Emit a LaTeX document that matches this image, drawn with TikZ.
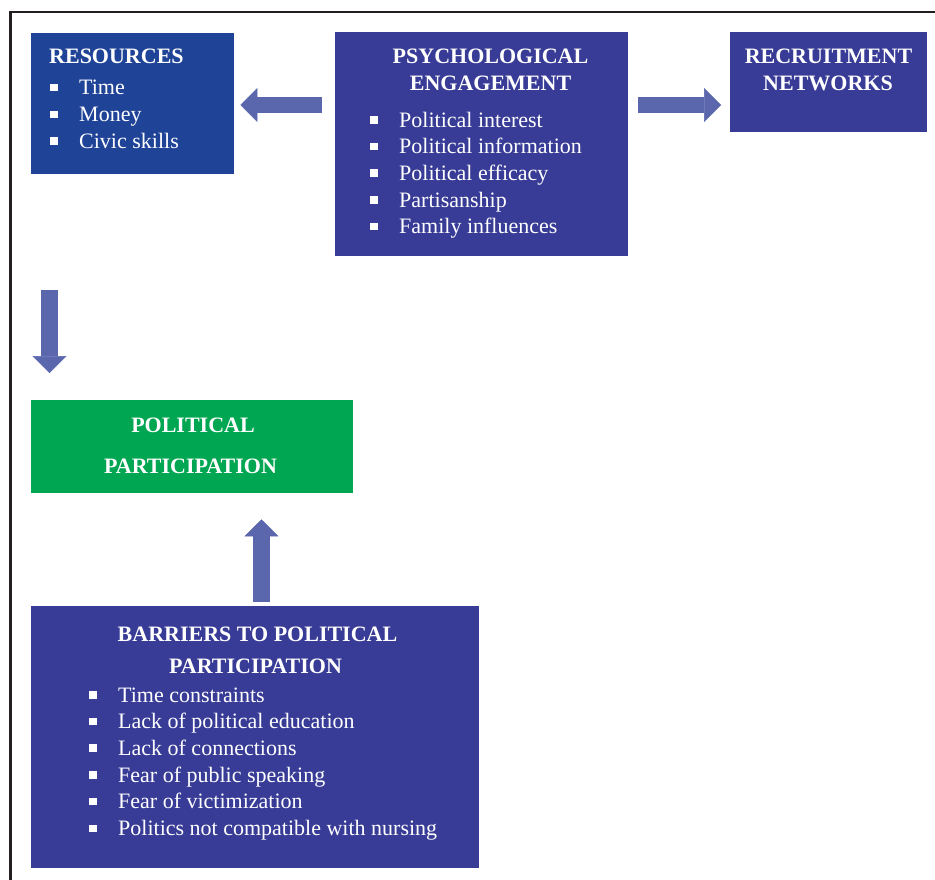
\documentclass[tikz,border=0pt]{standalone}
\usepackage{fontspec}
\setmainfont{Liberation Serif}
\usetikzlibrary{positioning, calc, arrows.meta}

\definecolor{resblue}{RGB}{31,67,151}
\definecolor{boxblue}{RGB}{56,60,150}
\definecolor{arrowblue}{RGB}{91,103,173}
\definecolor{ppgreen}{RGB}{0,166,81}
\definecolor{framegray}{RGB}{35,31,32}

\newcommand{\sqitem}[1]{\makebox[29pt][l]{\rule[3.5pt]{7.5pt}{7.5pt}}#1}

\begin{document}
\begin{tikzpicture}[x=1pt, y=-1pt,
  box/.style={rectangle, anchor=north west, inner sep=0pt, draw=none},
  title/.style={anchor=base, inner sep=0pt, text=white, font=\fontsize{22}{26}\selectfont\bfseries},
  item/.style={anchor=base west, inner sep=0pt, text=white, font=\fontsize{22}{26}\selectfont},
  fatarrow/.style={draw=arrowblue, line width=16.5pt, -{Triangle[length=17pt, width=34pt, line width=0.5pt]}}]
\useasboundingbox (0,0) rectangle (935,880);
\draw [framegray, line width=2.3pt] (10.5,880) -- (10.5,12.2) -- (935,12.2);

\node (res) [box, fill=resblue, minimum width=203pt, minimum height=141pt] at (31,33) {};
\node (psych) [box, fill=boxblue, minimum width=293pt, minimum height=224pt] at (335,32) {};
\node (rec) [box, fill=boxblue, minimum width=197pt, minimum height=100pt] at (730,32) {};
\node (pp) [box, fill=ppgreen, minimum width=322pt, minimum height=93pt] at (31,400) {};
\node (bar) [box, fill=boxblue, minimum width=448pt, minimum height=262pt] at (31,606) {};

% box titles
\node (res-t) [title, anchor=base west] at (49,64) {RESOURCES};
\node (psych-t1) [title] at (490.5,64) {PSYCHOLOGICAL};
\node (psych-t2) [title] at (490.5,91) {ENGAGEMENT};
\node (rec-t1) [title] at (828.5,64) {RECRUITMENT};
\node (rec-t2) [title] at (828,91) {NETWORKS};
\node (pp-t1) [title] at (193,432) {POLITICAL};
\node (pp-t2) [title] at (190.5,473) {PARTICIPATION};
\node (bar-t1) [title] at (257.5,641) {BARRIERS TO POLITICAL};
\node (bar-t2) [title] at (255.5,673) {PARTICIPATION};

% bullet lists
\foreach \t [count=\i] in {Time, Money, Civic skills}
  \node (res-\i) [item] at (50, 68.3+26.7*\i) {\sqitem{\t}};
\foreach \t [count=\i] in {Political interest, Political information, Political efficacy, Partisanship, Family influences}
  \node (psych-\i) [item] at (370, 100.4+26.7*\i) {\sqitem{\t}};
\foreach \t [count=\i] in {Time constraints, Lack of political education, Lack of connections, Fear of public speaking, Fear of victimization, Politics not compatible with nursing}
  \node (bar-\i) [item] at (89, 675.3+26.7*\i) {\sqitem{\t}};

\draw [fatarrow, shorten <=13pt, shorten >=6pt] ($(psych.north west)+(0,73)$) -- ($(res.north east)+(0,72)$);
\draw [fatarrow, shorten <=10pt, shorten >=9pt] ($(psych.north east)+(0,73)$) -- ($(rec.north west)+(0,73)$);
\draw [fatarrow, shorten <=116pt, shorten >=27pt] ($(res.south west)+(18.5,0)$) -- ($(pp.north west)+(18.5,0)$);
\draw [fatarrow, shorten <=4pt, shorten >=26pt] ($(bar.north west)+(230.5,0)$) -- ($(pp.south west)+(230.5,0)$);
\end{tikzpicture}
\end{document}
